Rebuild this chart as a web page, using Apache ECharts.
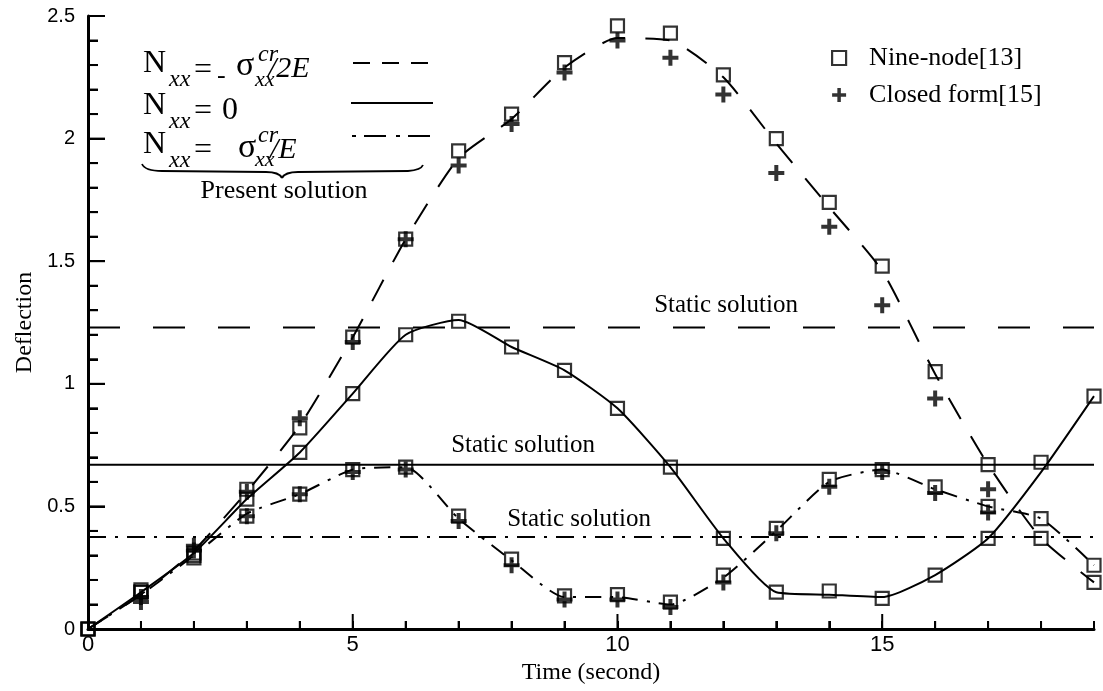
<!DOCTYPE html>
<html>
<head>
<meta charset="utf-8">
<script src="https://cdn.jsdelivr.net/npm/echarts@6/dist/echarts.min.js"></script>
<style>
html,body{margin:0;padding:0;background:#fff;}
#chart{width:1103px;height:691px;}
</style>
</head>
<body>
<div id="chart"></div>
<script>
// ---- data ----
const time = [0,1,2,3,4,5,6,7,8,9,10,11,12,13,14,15,16,17,18,19];
const xLabelValues = [0,5,10,15];
const yLabelValues = [0,0.5,1,1.5,2,2.5];
const yTickValues = [0,0.1,0.2,0.3,0.4,0.5,0.6,0.7,0.8,0.9,1,1.1,1.2,1.3,1.4,1.5,1.6,1.7,1.8,1.9,2,2.1,2.2,2.3,2.4,2.5];

// Present solution curves
const presentNeg = [0,0.14,0.32,0.56,0.83,1.19,1.59,1.92,2.08,2.29,2.41,2.40,2.25,1.98,1.72,1.46,1.04,0.67,0.37,0.19];
const presentZero = [0,0.15,0.31,0.53,0.72,0.96,1.20,1.26,1.15,1.055,0.90,0.66,0.37,0.15,0.14,0.13,0.22,0.37,0.64,0.95];
const presentPos = [0,0.14,0.30,0.47,0.55,0.65,0.66,0.45,0.28,0.13,0.13,0.10,0.21,0.40,0.60,0.65,0.57,0.50,0.45,0.26];

// Nine-node [13]
const nineNeg = [0,0.16,0.31,0.57,0.82,1.19,1.59,1.95,2.10,2.31,2.46,2.43,2.26,2.00,1.74,1.48,1.05,0.67,0.37,0.19];
const nineZero = [0,0.15,0.30,0.53,0.72,0.96,1.20,1.255,1.15,1.055,0.90,0.66,0.37,0.15,0.155,0.125,0.22,0.37,0.68,0.95];
const ninePos = [0,0.15,0.29,0.46,0.55,0.65,0.66,0.46,0.285,0.135,0.14,0.11,0.22,0.41,0.61,0.65,0.58,0.50,0.45,0.26];

// Closed form [15]
const closedNeg = [null,0.11,0.34,0.56,0.86,1.17,1.59,1.89,2.06,2.27,2.40,2.33,2.18,1.86,1.64,1.32,0.94,0.57,null,null];
const closedPos = [null,0.13,0.32,0.46,0.55,0.64,0.65,0.44,0.26,0.12,0.12,0.09,0.19,0.39,0.58,0.64,0.555,0.475,null,null];

// Static solutions
const staticNeg = 1.23;
const staticZero = 0.67;
const staticPos = 0.375;

// ---- helpers ----
const pairs = arr => time.map((t,i)=>[t,arr[i]]).filter(p=>p[1]!==null);
const hline = v => [[time[0],v],[time[time.length-1],v]];
const serif = '"Liberation Serif","Times New Roman",serif';
const sans = '"Liberation Sans",Arial,sans-serif';
const plus = 'path://M3.75,0H6.25V3.75H10V6.25H6.25V10H3.75V6.25H0V3.75H3.75Z';
const near = (v, list) => list.some(u => Math.abs(u - v) < 1e-6);

const DASH = [24,20];
const DASHDOT = [16,9,3,9];

function curve(data, type){
  return {type:'line', data:pairs(data), showSymbol:false, symbol:'none', smooth:0.2, silent:true,
    lineStyle:{color:'#000', width:2, type:type}, z:2};
}
function staticLine(v, type){
  return {type:'line', data:hline(v), showSymbol:false, symbol:'none', silent:true,
    lineStyle:{color:'#000', width:2, type:type}, z:2};
}
function squares(data){
  return {name:'Nine-node[13]', type:'scatter', data:pairs(data), symbol:'rect', symbolSize:13, clip:false,
    itemStyle:{color:'rgba(0,0,0,0)', borderColor:'#000', borderWidth:2.2}, z:3};
}
function crosses(data){
  return {name:'Closed form[15]', type:'scatter', data:pairs(data), symbol:plus, symbolSize:16, clip:false,
    itemStyle:{color:'#000'}, z:4};
}
// inward tick marks placed through the axes' own scales (api.coord)
function xTicks(){
  return {type:'custom', silent:true, clip:false, z:6, data:time.map(t=>[t,0]),
    renderItem:(params, api)=>{
      const v = api.value(0);
      const p = api.coord([v, 0]);
      const len = near(v, xLabelValues) ? 15 : 8;
      return {type:'line', shape:{x1:p[0], y1:p[1], x2:p[0], y2:p[1]-len}, style:{stroke:'#000', lineWidth:2}};
    }};
}
function yTicks(){
  return {type:'custom', silent:true, clip:false, z:6, data:yTickValues.map(v=>[0,v]),
    renderItem:(params, api)=>{
      const v = api.value(1);
      const p = api.coord([0, v]);
      const len = near(v, yLabelValues) ? 17 : 10;
      return {type:'line', shape:{x1:p[0], y1:p[1], x2:p[0]+len, y2:p[1]}, style:{stroke:'#000', lineWidth:2}};
    }};
}

function txt(text, x, y, size, italic, align){
  return {type:'text', x:x, y:y, silent:true, z:10,
    style:{text:text, fill:'#000', font:(italic?'italic ':'')+size+'px '+serif, align:align||'left', verticalAlign:'middle'}};
}
function sample(y, x1, x2, dash){
  const st = {stroke:'#000', lineWidth:2};
  if (dash) st.lineDash = dash;
  return {type:'line', silent:true, z:10, shape:{x1:x1,y1:y,x2:x2,y2:y}, style:st};
}
function seg(x1,y1,x2,y2){
  return {type:'line', silent:true, z:10, shape:{x1:x1,y1:y1,x2:x2,y2:y2}, style:{stroke:'#000', lineWidth:1.8}};
}
function bez(x1,y1,cx,cy,x2,y2){
  return {type:'bezierCurve', silent:true, z:10, shape:{x1:x1,y1:y1,cpx1:cx,cpy1:cy,x2:x2,y2:y2},
    style:{stroke:'#000', fill:null, lineWidth:1.8}};
}

const chart = echarts.init(document.getElementById('chart'));
chart.setOption({
  backgroundColor:'#fff',
  animation:false,
  grid:{left:88, right:9, top:16, bottom:62, containLabel:false},
  xAxis:{
    type:'value', min:0, max:19, interval:1, position:'bottom', z:5,
    axisLine:{show:true, onZero:false, lineStyle:{color:'#000', width:3}},
    axisTick:{show:true, inside:true, length:8, lineStyle:{color:'#000', width:2}},
    axisLabel:{fontFamily:sans, fontSize:22, color:'#000', margin:5,
      formatter: v => near(v, xLabelValues) ? String(v) : ''},
    splitLine:{show:false},
    name:'Time (second)', nameLocation:'middle', nameGap:24,
    nameTextStyle:{fontFamily:serif, fontSize:24, color:'#000'}
  },
  yAxis:{
    type:'value', min:0, max:2.5, interval:0.5, position:'left', z:5,
    axisLine:{show:true, onZero:false, lineStyle:{color:'#000', width:3}},
    axisTick:{show:true, inside:true, length:17, lineStyle:{color:'#000', width:2}},
    minorTick:{show:true, splitNumber:5, length:10, lineStyle:{color:'#000', width:2}},
    axisLabel:{fontFamily:sans, fontSize:20, color:'#000', margin:13,
      formatter: v => near(v, yLabelValues) ? String(+v.toFixed(1)) : ''},
    splitLine:{show:false},
    name:'Deflection', nameLocation:'middle', nameGap:45,
    nameTextStyle:{fontFamily:serif, fontSize:24, color:'#000'}
  },
  legend:{
    orient:'vertical', left:826, top:40, itemWidth:14, itemHeight:14, itemGap:11,
    textStyle:{fontFamily:serif, fontSize:26, color:'#000', padding:[0,0,0,18]},
    data:[
      {name:'Nine-node[13]', icon:'rect', itemStyle:{color:'rgba(0,0,0,0)', borderColor:'#000', borderWidth:2.2}},
      {name:'Closed form[15]', icon:plus, itemStyle:{color:'#000'}}
    ]
  },
  series:[
    curve(presentNeg, DASH),
    curve(presentZero, 'solid'),
    curve(presentPos, DASHDOT),
    staticLine(staticNeg, [32,33]),
    staticLine(staticZero, 'solid'),
    staticLine(staticPos, [18,9,3,9]),
    squares(nineNeg),
    squares(nineZero),
    squares(ninePos),
    crosses(closedNeg),
    crosses(closedPos),
    xTicks(),
    yTicks()
  ],
  graphic:[
    // legend of present solution
    txt('N',143,64,32), txt('xx',169,80,24,true), txt('=',194,71,32), txt('-',217,76,26),
    txt('σ',236,66,34), txt('cr',258,55,24,true), txt('xx',255,80,22,true), txt('/2E',268,69,30,true),
    txt('N',143,106,32), txt('xx',169,122,24,true), txt('=',194,112,32), txt('0',222,111,32),
    txt('N',143,145,32), txt('xx',169,161,24,true), txt('=',194,151,32),
    txt('σ',238,148,34), txt('cr',258,136,24,true), txt('xx',255,160,22,true), txt('/E',270,150,30,true),
    sample(63,353,433,[17,12]),
    sample(103,351,433),
    sample(136,352,432,[4,8,22,10]),
    bez(142,164,145,171,162,171), seg(162,171,266,172), bez(266,172,279,172,282,178),
    bez(282,178,285,172,298,172), seg(298,172,408,171), bez(408,171,421,170,423,165),
    txt('Present solution',284,191,26,false,'center'),
    // static solution labels
    txt('Static solution',726,305,25,false,'center'),
    txt('Static solution',523,445,25,false,'center'),
    txt('Static solution',579,519,25,false,'center')
  ]
});
</script>
</body>
</html>
